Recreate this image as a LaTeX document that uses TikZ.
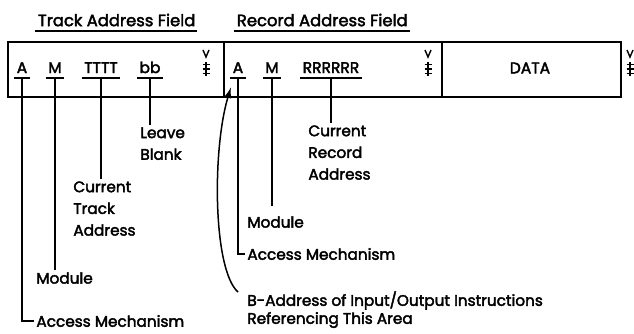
\documentclass[tikz,border=0pt]{standalone}
\usepackage{fontspec}
\setmainfont{Poppins}[FakeBold=2.5]
\usetikzlibrary{arrows.meta}
\newcommand\lblfont{\fontsize{15.3}{21.7}\selectfont}
\newcommand\hdfont{\fontsize{16.4}{18}\selectfont}
\newcommand\fldfont{\fontsize{15.5}{17}\selectfont}
\begin{document}
\begin{tikzpicture}[x=1pt,y=-1pt,line width=1.8pt,
  fld/.style={anchor=base,inner xsep=1.5pt,inner ysep=4pt,text depth=0pt,font=\fldfont},
  lbl/.style={inner sep=1.5pt,font=\lblfont,align=left},
  hd/.style={inner xsep=0pt,inner ysep=0pt,font=\hdfont,anchor=west},
  box/.style={draw,line width=2pt,inner sep=0pt,anchor=north west,minimum height=55pt},
  uline/.style={line width=1.6pt},
  gm/.pic={\draw[line width=1.6pt] (0,-7) -- (0,7);
    \foreach \yy in {-4.5,0,4.5} \draw[line width=1.4pt] (-3.5,\yy) -- (3.5,\yy);
    \draw[line width=1.4pt] (-3,-19) -- (0,-12) -- (3,-19);}]
\useasboundingbox (0,0) rectangle (634,333);
% headings
\node[hd] (htrk) at (37,20) {Track Address Field};
\node[hd] (hrec) at (236,20) {Record Address Field};
\draw[uline] ([xshift=-2pt,yshift=-11pt]htrk.west) -- ([xshift=1pt,yshift=-11pt]htrk.east);
\draw[uline] ([xshift=-2pt,yshift=-11pt]hrec.west) -- ([xshift=1pt,yshift=-11pt]hrec.east);
% boxes
\node[box,minimum width=215.5pt] (trk) at (7,41) {};
\node[box,minimum width=218pt] (rec) at (222.5,41) {};
\node[box,minimum width=179.5pt] (dat) at (440.5,41) {};
\node[font=\fldfont] (datatxt) at (530,68) {DATA};
% field letters
\node[fld] (tA) at (22,73) {A};
\node[fld] (tM) at (55,73) {M};
\node[fld] (tT) at (101,73) {TTTT};
\node[fld] (tb) at (150,73) {bb};
\node[fld] (rA) at (238,73) {A};
\node[fld] (rM) at (272,73) {M};
\node[fld] (rR) at (331,73) {RRRRRR};
\foreach \n in {tA,tM,tT,tb,rA,rM,rR}
  \draw[uline] (\n.south west) -- (\n.south east);
% group marks
\pic at (206,69) {gm};
\pic at (428,69) {gm};
\pic at (630,69) {gm};
% labels
\node[lbl,anchor=north west] (leave) at (138,125) {Leave\\Blank};
\node[lbl,anchor=north west] (cta) at (71,179) {Current\\Track\\Address};
\node[lbl,anchor=west] (tmod) at (34,278) {Module};
\node[lbl,anchor=west] (tacc) at (34,321) {Access Mechanism};
\node[lbl,anchor=north west] (cra) at (306,123) {Current\\Record\\Address};
\node[lbl,anchor=west] (rmod) at (245,222) {Module};
\node[lbl,anchor=west] (racc) at (245,254) {Access Mechanism};
\node[lbl,anchor=north west,font=\fontsize{15.3}{18}\selectfont] (badr) at (245,289) {B-Address of Input/Output Instructions\\Referencing This Area};
% connectors
\draw (tb.south) -- (tb.south |- leave.north);
\draw (tT.south) -- (tT.south |- cta.north);
\draw (tM.south) -- (tM.south |- tmod.north);
\draw (tA.south) |- (tacc.west);
\draw (rR.south) -- (rR.south |- cra.north);
\draw[shorten >=8pt] (rM.south) -- (rM.south |- rmod.north);
\draw (rA.south) |- (racc.west);
\coordinate (tip) at (231,87);
\draw[line width=1.5pt,-{Latex[length=11pt,width=7pt]}] ([xshift=-7pt,yshift=-3pt]badr.north west) .. controls (213,270) and (212,150) .. (tip);
\end{tikzpicture}
\end{document}
